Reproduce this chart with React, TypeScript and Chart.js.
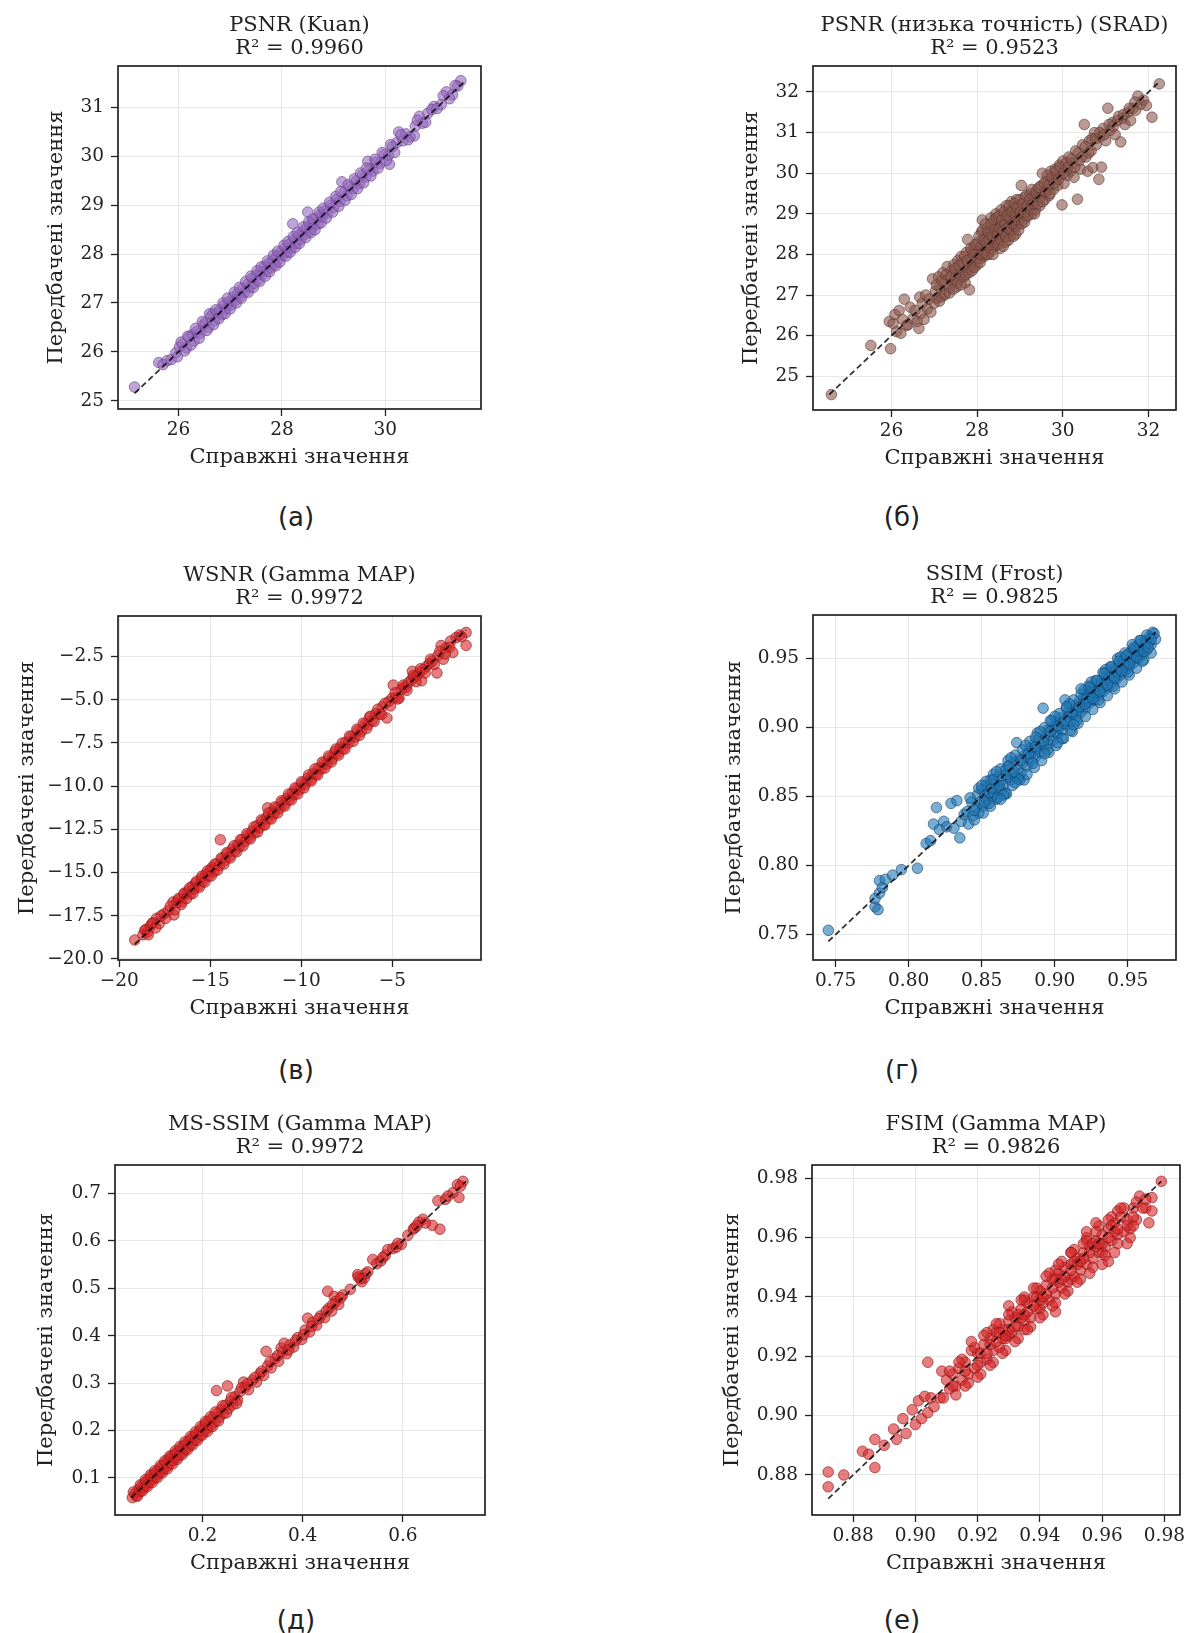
import React, { useEffect, useRef } from "react";
import { Chart, registerables } from "chart.js";

Chart.register(...registerables);

// ---------------- DATA (true value, predicted value) ----------------
const kuanPoints: [number, number][] = [
  [25.15, 25.28], [25.62, 25.78], [25.7, 25.74], [25.78, 25.82], [25.86, 25.84], [25.95, 25.98],
  [26.02, 26.1], [26.08, 26.16], [26.15, 26.08], [26.2, 26.3], [26.26, 26.35], [26.3, 26.22],
  [26.36, 26.42], [26.42, 26.38], [26.48, 26.55], [26.52, 26.6], [26.58, 26.5], [26.62, 26.72],
  [26.66, 26.78], [26.7, 26.64], [26.75, 26.8], [26.8, 26.86], [26.84, 26.76], [26.88, 26.95],
  [26.92, 26.88], [26.97, 27.02], [27.02, 26.96], [27.06, 27.12], [27.1, 27.05], [27.15, 27.2],
  [27.2, 27.14], [27.24, 27.3], [27.28, 27.22], [27.33, 27.38], [27.38, 27.32], [27.42, 27.5],
  [27.46, 27.4], [27.5, 27.56], [27.55, 27.48], [27.58, 27.64], [27.62, 27.58], [27.66, 27.74],
  [27.7, 27.66], [27.74, 27.8], [27.78, 27.72], [27.82, 27.88], [27.86, 27.8], [27.9, 27.96],
  [27.94, 27.9], [27.98, 28.04], [28.02, 27.98], [28.06, 28.12], [28.1, 28.04], [28.14, 28.2],
  [28.18, 28.12], [28.21, 28.62], [28.24, 28.3], [28.28, 28.22], [28.32, 28.38], [28.36, 28.3],
  [28.4, 28.46], [28.44, 28.4], [28.48, 28.55], [28.5, 28.86], [28.54, 28.48], [28.58, 28.64],
  [28.62, 28.58], [28.66, 28.72], [28.7, 28.62], [28.74, 28.8], [28.78, 28.76], [28.82, 28.88],
  [28.88, 28.84], [28.94, 29.0], [29.0, 28.96], [29.06, 29.12], [29.12, 29.08], [29.16, 29.48],
  [29.2, 29.26], [29.26, 29.2], [29.32, 29.38], [29.38, 29.34], [29.44, 29.5], [29.5, 29.44],
  [29.56, 29.62], [29.62, 29.58], [29.66, 29.9], [29.7, 29.74], [29.76, 29.7], [29.82, 29.88],
  [29.9, 29.86], [29.98, 30.04], [30.06, 30.02], [30.08, 29.84], [30.14, 30.2], [30.22, 30.28],
  [30.26, 30.5], [30.34, 30.32], [30.4, 30.46], [30.48, 30.4], [30.56, 30.42], [30.58, 30.62],
  [30.66, 30.82], [30.72, 30.68], [30.82, 30.88], [30.94, 31.02], [31.08, 31.06], [31.18, 31.32],
  [31.3, 31.26], [31.4, 31.44], [31.46, 31.55],
];
const kuanPointsExtra: [number, number][] = [
  [25.98, 25.9], [26.05, 26.2], [26.12, 26.02], [26.18, 26.32], [26.24, 26.14], [26.33, 26.48],
  [26.4, 26.28], [26.46, 26.62], [26.55, 26.44], [26.6, 26.78], [26.68, 26.56], [26.72, 26.86],
  [26.78, 26.68], [26.86, 27.0], [26.9, 26.78], [26.95, 27.1], [27.0, 26.88], [27.08, 27.22],
  [27.12, 27.0], [27.18, 27.32], [27.22, 27.1], [27.3, 27.44], [27.35, 27.22], [27.4, 27.55],
  [27.45, 27.32], [27.52, 27.66], [27.57, 27.44], [27.6, 27.74], [27.68, 27.55], [27.72, 27.86],
  [27.76, 27.64], [27.84, 27.98], [27.88, 27.76], [27.92, 28.06], [27.96, 27.84], [28.04, 28.18],
  [28.08, 27.96], [28.12, 28.26], [28.16, 28.04], [28.22, 28.36], [28.26, 28.14], [28.3, 28.44],
  [28.34, 28.22], [28.42, 28.56], [28.46, 28.34], [28.52, 28.66], [28.56, 28.44], [28.6, 28.72],
  [28.64, 28.5], [28.72, 28.86], [28.76, 28.64], [28.8, 28.94], [28.86, 28.74], [28.92, 29.06],
  [28.98, 28.86], [29.04, 29.18], [29.1, 28.98], [29.14, 29.28], [29.22, 29.1], [29.28, 29.42],
  [29.34, 29.22], [29.4, 29.54], [29.46, 29.34], [29.52, 29.66], [29.58, 29.46], [29.64, 29.76],
  [29.72, 29.6], [29.8, 29.94], [29.86, 29.76], [29.94, 30.08], [30.02, 29.92], [30.1, 30.24],
  [30.18, 30.08], [30.3, 30.44], [30.44, 30.34], [30.62, 30.74], [30.78, 30.7], [30.9, 30.96],
  [31.0, 30.98], [31.12, 31.24], [31.24, 31.18], [31.35, 31.45],
];

const sradPoints: [number, number][] = [
  [24.6, 24.55], [25.52, 25.76], [25.98, 25.68], [25.95, 26.35], [26.04, 26.3], [26.08, 26.52],
  [26.12, 26.1], [26.18, 26.62], [26.22, 26.06], [26.26, 26.4], [26.3, 26.9], [26.35, 26.25],
  [26.39, 26.27], [26.44, 26.7], [26.5, 26.42], [26.55, 26.62], [26.6, 26.35], [26.64, 26.18],
  [26.66, 26.95], [26.7, 26.55], [26.72, 26.8], [26.76, 26.4], [26.8, 27.0], [26.84, 26.66],
  [26.88, 26.9], [26.92, 26.58], [26.96, 27.4], [27.0, 26.8], [27.03, 27.1], [27.06, 26.92],
  [27.1, 27.45], [27.13, 27.2], [27.16, 26.95], [27.2, 27.55], [27.22, 27.3], [27.26, 27.05],
  [27.3, 27.7], [27.33, 27.4], [27.36, 27.18], [27.4, 27.6], [27.43, 27.32], [27.46, 27.75],
  [27.5, 27.48], [27.52, 27.2], [27.55, 27.85], [27.58, 27.6], [27.6, 27.4], [27.63, 27.95],
  [27.66, 27.55], [27.7, 27.78], [27.72, 27.3], [27.75, 28.05], [27.78, 28.37], [27.8, 27.65],
  [27.82, 27.13], [27.84, 27.9], [27.87, 28.1], [27.9, 27.7], [27.93, 28.2], [27.96, 27.85],
  [27.98, 28.0], [28.0, 27.75], [28.02, 28.3], [28.05, 28.1], [28.08, 27.9], [28.1, 28.55],
  [28.12, 28.85], [28.14, 28.2], [28.16, 27.95], [28.18, 28.4], [28.2, 28.1], [28.22, 28.65],
  [28.25, 28.25], [28.27, 28.0], [28.3, 28.5], [28.32, 28.9], [28.34, 28.3], [28.36, 28.12],
  [28.38, 28.7], [28.4, 28.45], [28.42, 28.2], [28.44, 29.0], [28.46, 28.6], [28.48, 28.35],
  [28.5, 28.8], [28.52, 28.5], [28.54, 28.15], [28.56, 29.1], [28.58, 28.7], [28.6, 28.4],
  [28.62, 28.95], [28.64, 28.6], [28.66, 28.3], [28.68, 29.2], [28.7, 28.8], [28.72, 28.55],
  [28.74, 29.05], [28.76, 28.7], [28.78, 28.45], [28.8, 29.3], [28.82, 28.9], [28.84, 28.6],
  [28.86, 29.1], [28.88, 28.8], [28.9, 28.5], [28.92, 29.35], [28.94, 29.0], [28.96, 28.75],
  [28.98, 29.2], [29.0, 28.9], [29.03, 29.7], [29.05, 29.1], [29.08, 28.85], [29.1, 29.4],
  [29.13, 29.05], [29.16, 28.95], [29.18, 29.3], [29.2, 29.15], [29.23, 29.5], [29.26, 29.2],
  [29.28, 29.0], [29.3, 29.45], [29.33, 29.3], [29.36, 29.1], [29.4, 29.6], [29.43, 29.4],
  [29.46, 29.2], [29.5, 29.7], [29.52, 30.0], [29.55, 29.5], [29.58, 29.35], [29.62, 29.8],
  [29.65, 29.6], [29.68, 29.45], [29.72, 30.05], [29.75, 29.85], [29.78, 29.6], [29.82, 30.1],
  [29.85, 29.9], [29.88, 29.7], [29.92, 30.2], [29.95, 29.95], [29.98, 29.22], [30.0, 30.3],
  [30.03, 29.75], [30.06, 30.1], [30.1, 29.95], [30.14, 30.4], [30.18, 30.05], [30.22, 30.25],
  [30.26, 29.9], [30.3, 30.55], [30.34, 29.36], [30.38, 30.3], [30.42, 30.1], [30.46, 30.7],
  [30.5, 31.2], [30.54, 30.4], [30.58, 30.05], [30.62, 30.8], [30.66, 30.55], [30.7, 30.14],
  [30.74, 31.0], [30.78, 30.7], [30.84, 29.85], [30.88, 30.9], [30.9, 30.15], [30.94, 31.1],
  [31.0, 30.8], [31.05, 31.6], [31.1, 31.05], [31.16, 31.25], [31.22, 30.95], [31.28, 31.3],
  [31.35, 30.77], [31.4, 31.35], [31.45, 31.2], [31.52, 31.5], [31.58, 31.3], [31.64, 31.6],
  [31.7, 31.55], [31.75, 31.9], [31.82, 31.7], [31.88, 31.8], [31.95, 31.67], [32.08, 31.38],
  [32.25, 32.2],
];
const sradPointsExtra: [number, number][] = [
  [27.05, 27.25], [27.12, 26.85], [27.18, 27.35], [27.24, 27.0], [27.28, 27.5], [27.35, 27.05],
  [27.38, 27.45], [27.45, 27.15], [27.48, 27.65], [27.54, 27.3], [27.57, 27.72], [27.62, 27.25],
  [27.65, 27.8], [27.68, 27.45], [27.71, 27.95], [27.74, 27.5], [27.77, 27.85], [27.81, 27.55],
  [27.85, 28.15], [27.88, 27.6], [27.91, 28.0], [27.94, 27.68], [27.97, 28.25], [28.01, 27.9],
  [28.04, 28.45], [28.07, 27.8], [28.09, 28.2], [28.11, 28.0], [28.13, 28.6], [28.15, 28.35],
  [28.17, 28.05], [28.19, 28.75], [28.21, 28.3], [28.23, 28.0], [28.26, 28.55], [28.28, 28.35],
  [28.31, 28.15], [28.33, 28.75], [28.35, 28.45], [28.37, 28.0], [28.39, 28.85], [28.41, 28.6],
  [28.43, 28.3], [28.45, 28.9], [28.47, 28.5], [28.49, 28.25], [28.51, 28.95], [28.53, 28.65],
  [28.55, 28.35], [28.57, 28.85], [28.59, 28.55], [28.61, 28.2], [28.63, 29.05], [28.65, 28.75],
  [28.67, 28.45], [28.69, 28.95], [28.71, 28.65], [28.73, 28.35], [28.75, 29.2], [28.77, 28.9],
  [28.79, 28.6], [28.81, 29.05], [28.83, 28.75], [28.85, 28.45], [28.87, 29.25], [28.89, 28.95],
  [28.91, 28.7], [28.93, 29.15], [28.95, 28.85], [28.97, 28.6], [28.99, 29.35], [29.01, 29.05],
  [29.04, 28.75], [29.06, 29.25], [29.09, 29.0], [29.11, 28.8], [29.14, 29.45], [29.17, 29.2],
  [29.19, 28.95], [29.22, 29.35], [29.25, 29.1], [29.27, 29.6], [29.31, 29.25], [29.34, 29.0],
  [29.38, 29.5], [29.41, 29.25], [29.44, 29.65], [29.48, 29.4], [29.53, 29.3], [29.57, 29.75],
  [29.6, 29.55], [29.64, 29.95], [29.67, 29.7], [29.7, 29.5], [29.74, 29.9], [29.8, 29.75],
  [29.84, 30.05], [29.9, 29.85], [29.94, 30.15], [30.02, 30.0], [30.08, 30.25], [30.12, 30.15],
  [30.2, 30.35], [30.28, 30.15], [30.36, 30.5], [30.44, 30.4], [30.52, 30.65], [30.6, 30.5],
  [30.68, 30.85], [30.76, 30.85], [30.86, 31.0], [30.96, 30.95], [31.08, 31.2], [31.18, 31.15],
  [31.3, 31.4], [31.42, 31.45], [31.55, 31.6], [31.68, 31.75],
];

const wsnrPoints: [number, number][] = [
  [-19.15, -18.9], [-18.7, -18.6], [-18.55, -18.3], [-18.45, -18.45], [-18.3, -18.1], [-18.15, -17.9],
  [-17.95, -17.65], [-17.8, -17.95], [-17.55, -17.4], [-17.3, -17.2], [-17.05, -16.7], [-17.0, -17.45],
  [-16.85, -16.75], [-16.7, -16.55], [-16.55, -16.7], [-16.4, -16.25], [-16.25, -16.1], [-16.1, -16.25],
  [-16.0, -15.8], [-15.9, -15.95], [-15.8, -15.6], [-15.65, -15.75], [-15.5, -15.35], [-15.4, -15.5],
  [-15.25, -15.1], [-15.1, -15.2], [-15.0, -14.85], [-14.9, -14.7], [-14.8, -14.95], [-14.65, -14.5],
  [-14.45, -13.1], [-14.5, -14.6], [-14.35, -14.2], [-14.2, -14.3], [-14.05, -13.9], [-13.95, -14.05],
  [-13.8, -13.65], [-13.65, -13.75], [-13.5, -13.4], [-13.4, -13.5], [-13.25, -13.1], [-13.1, -13.2],
  [-12.95, -12.85], [-12.85, -12.95], [-12.7, -12.6], [-12.55, -12.7], [-12.45, -12.3], [-12.3, -12.4],
  [-12.15, -12.05], [-12.05, -12.2], [-11.9, -11.8], [-11.85, -11.25], [-11.75, -11.85], [-11.6, -11.5],
  [-11.5, -11.6], [-11.35, -11.25], [-11.2, -11.3], [-11.05, -10.95], [-10.95, -11.05], [-10.8, -10.7],
  [-10.65, -10.75], [-10.5, -10.4], [-10.4, -10.5], [-10.25, -10.15], [-10.1, -10.2], [-9.95, -9.85],
  [-9.8, -9.9], [-9.65, -9.55], [-9.5, -9.62], [-9.35, -9.25], [-9.2, -9.32], [-9.05, -8.95],
  [-8.9, -9.0], [-8.75, -8.65], [-8.6, -8.72], [-8.45, -8.35], [-8.3, -8.42], [-8.15, -8.0],
  [-8.0, -8.1], [-7.85, -7.75], [-7.7, -7.82], [-7.55, -7.45], [-7.4, -7.5], [-7.25, -7.12],
  [-7.05, -7.15], [-6.9, -6.8], [-6.7, -6.82], [-6.5, -6.4], [-6.35, -6.45], [-6.25, -6.0],
  [-6.1, -6.2], [-5.9, -5.8], [-5.7, -5.82], [-5.55, -5.4], [-5.3, -6.05], [-5.2, -5.1],
  [-5.0, -4.9], [-4.95, -4.15], [-4.8, -4.85], [-4.63, -4.9], [-4.5, -4.4], [-4.35, -4.25],
  [-4.25, -4.3], [-4.1, -4.0], [-3.95, -3.85], [-3.9, -3.35], [-3.8, -3.7], [-3.65, -3.6],
  [-3.5, -3.4], [-3.4, -3.9], [-3.3, -3.25], [-3.1, -3.05], [-2.95, -2.9], [-2.8, -2.75],
  [-2.55, -3.45], [-2.5, -2.45], [-2.32, -1.86], [-2.2, -2.65], [-2.05, -2.0], [-1.85, -1.95],
  [-1.68, -2.26], [-1.5, -1.4], [-1.3, -1.25], [-0.95, -1.85], [-0.95, -1.1],
];
const wsnrPointsExtra: [number, number][] = [
  [-18.6, -18.35], [-18.4, -18.6], [-18.2, -17.95], [-18.0, -18.2], [-17.7, -17.5], [-17.45, -17.65],
  [-17.2, -16.95], [-16.95, -17.15], [-16.75, -16.5], [-16.6, -16.85], [-16.45, -16.2], [-16.3, -16.5],
  [-16.15, -15.9], [-15.95, -16.2], [-15.75, -15.5], [-15.6, -15.85], [-15.45, -15.2], [-15.3, -15.55],
  [-15.15, -14.9], [-14.95, -15.2], [-14.75, -14.5], [-14.6, -14.85], [-14.4, -14.15], [-14.25, -14.5],
  [-14.1, -13.85], [-13.9, -14.15], [-13.7, -13.45], [-13.55, -13.8], [-13.35, -13.1], [-13.2, -13.45],
  [-13.0, -12.75], [-12.8, -13.05], [-12.6, -12.35], [-12.4, -12.65], [-12.2, -11.95], [-12.0, -12.25],
  [-11.8, -11.55], [-11.65, -11.9], [-11.45, -11.2], [-11.3, -11.55], [-11.1, -10.85], [-10.9, -11.15],
  [-10.7, -10.45], [-10.55, -10.8], [-10.35, -10.1], [-10.2, -10.45], [-10.0, -9.75], [-9.85, -10.1],
  [-9.6, -9.35], [-9.45, -9.7], [-9.25, -9.0], [-9.1, -9.35], [-8.85, -8.6], [-8.7, -8.95],
  [-8.5, -8.25], [-8.35, -8.6], [-8.1, -7.85], [-7.95, -8.2], [-7.75, -7.5], [-7.6, -7.85],
  [-7.35, -7.1], [-7.15, -7.4], [-6.95, -6.7], [-6.8, -7.05], [-6.6, -6.35], [-6.4, -6.65],
  [-6.2, -5.95], [-6.0, -6.25], [-5.8, -5.55], [-5.6, -5.85], [-5.4, -5.2], [-5.1, -5.35],
  [-4.85, -4.6], [-4.7, -4.95], [-4.4, -4.15], [-4.2, -4.45], [-3.85, -3.6], [-3.7, -3.95],
  [-3.45, -3.2], [-3.2, -3.45], [-2.9, -2.65], [-2.7, -2.95], [-2.4, -2.2], [-2.1, -2.35],
  [-1.8, -1.6], [-1.2, -1.35],
];

const ssimPoints: [number, number][] = [
  [0.745, 0.753], [0.777, 0.77], [0.777, 0.776], [0.779, 0.768], [0.78, 0.78], [0.78, 0.789],
  [0.782, 0.784], [0.784, 0.79], [0.789, 0.793], [0.795, 0.797], [0.806, 0.798], [0.812, 0.816],
  [0.815, 0.818], [0.817, 0.83], [0.819, 0.842], [0.821, 0.826], [0.824, 0.832], [0.826, 0.828],
  [0.829, 0.845], [0.831, 0.827], [0.833, 0.847], [0.835, 0.82], [0.836, 0.832], [0.838, 0.837],
  [0.84, 0.839], [0.841, 0.83], [0.843, 0.846], [0.844, 0.836], [0.846, 0.842], [0.847, 0.851],
  [0.848, 0.838], [0.849, 0.846], [0.85, 0.855], [0.851, 0.843], [0.852, 0.85], [0.853, 0.858],
  [0.854, 0.847], [0.855, 0.853], [0.856, 0.862], [0.857, 0.85], [0.858, 0.853], [0.859, 0.86],
  [0.86, 0.848], [0.861, 0.857], [0.862, 0.865], [0.863, 0.855], [0.864, 0.862], [0.865, 0.858],
  [0.866, 0.869], [0.867, 0.852], [0.868, 0.864], [0.869, 0.872], [0.87, 0.862], [0.871, 0.867],
  [0.872, 0.875], [0.873, 0.864], [0.874, 0.889], [0.875, 0.87], [0.876, 0.877], [0.877, 0.867],
  [0.878, 0.874], [0.879, 0.862], [0.88, 0.88], [0.881, 0.872], [0.882, 0.878], [0.883, 0.885],
  [0.884, 0.876], [0.885, 0.882], [0.886, 0.888], [0.887, 0.879], [0.888, 0.884], [0.889, 0.892],
  [0.89, 0.882], [0.891, 0.888], [0.892, 0.914], [0.893, 0.886], [0.894, 0.893], [0.895, 0.898],
  [0.896, 0.888], [0.897, 0.894], [0.898, 0.9], [0.899, 0.891], [0.9, 0.897], [0.901, 0.904],
  [0.902, 0.895], [0.903, 0.9], [0.904, 0.907], [0.905, 0.898], [0.906, 0.903], [0.907, 0.92],
  [0.908, 0.902], [0.909, 0.908], [0.91, 0.912], [0.911, 0.904], [0.912, 0.897], [0.913, 0.91],
  [0.914, 0.916], [0.915, 0.908], [0.916, 0.913], [0.917, 0.919], [0.918, 0.911], [0.919, 0.916],
  [0.92, 0.922], [0.921, 0.914], [0.922, 0.919], [0.923, 0.926], [0.924, 0.918], [0.925, 0.922],
  [0.926, 0.928], [0.927, 0.92], [0.928, 0.925], [0.929, 0.931], [0.93, 0.923], [0.931, 0.928],
  [0.932, 0.934], [0.933, 0.926], [0.934, 0.931], [0.935, 0.937], [0.936, 0.929], [0.937, 0.934],
  [0.938, 0.94], [0.939, 0.932], [0.94, 0.937], [0.941, 0.943], [0.942, 0.935], [0.943, 0.94],
  [0.944, 0.946], [0.945, 0.938], [0.946, 0.943], [0.947, 0.949], [0.948, 0.941], [0.949, 0.946],
  [0.95, 0.953], [0.951, 0.944], [0.952, 0.949], [0.953, 0.956], [0.954, 0.947], [0.955, 0.952],
  [0.956, 0.958], [0.957, 0.95], [0.958, 0.955], [0.959, 0.961], [0.96, 0.953], [0.961, 0.958],
  [0.962, 0.963], [0.963, 0.956], [0.964, 0.961], [0.965, 0.966], [0.966, 0.96], [0.967, 0.969],
  [0.969, 0.964],
];
const ssimPointsExtra: [number, number][] = [
  [0.842, 0.849], [0.845, 0.833], [0.848, 0.856], [0.851, 0.838], [0.853, 0.861], [0.856, 0.843],
  [0.858, 0.866], [0.861, 0.849], [0.863, 0.87], [0.866, 0.852], [0.868, 0.876], [0.871, 0.858],
  [0.873, 0.88], [0.876, 0.862], [0.878, 0.884], [0.881, 0.866], [0.883, 0.89], [0.886, 0.871],
  [0.888, 0.896], [0.891, 0.876], [0.893, 0.9], [0.896, 0.882], [0.898, 0.905], [0.901, 0.887],
  [0.903, 0.91], [0.906, 0.892], [0.908, 0.914], [0.911, 0.898], [0.913, 0.92], [0.916, 0.903],
  [0.918, 0.924], [0.921, 0.908], [0.923, 0.93], [0.926, 0.913], [0.928, 0.934], [0.931, 0.918],
  [0.933, 0.94], [0.936, 0.923], [0.938, 0.944], [0.941, 0.928], [0.943, 0.95], [0.946, 0.933],
  [0.948, 0.954], [0.951, 0.938], [0.953, 0.96], [0.956, 0.943], [0.958, 0.963], [0.961, 0.949],
  [0.963, 0.967], [0.966, 0.954], [0.968, 0.968], [0.935, 0.942], [0.94, 0.93], [0.945, 0.951],
  [0.95, 0.94], [0.955, 0.957], [0.96, 0.948], [0.925, 0.933], [0.93, 0.92], [0.92, 0.927],
  [0.915, 0.905], [0.91, 0.917], [0.905, 0.892], [0.9, 0.908], [0.895, 0.884], [0.89, 0.897],
  [0.885, 0.874], [0.88, 0.887], [0.875, 0.863], [0.87, 0.878], [0.865, 0.851], [0.86, 0.868],
  [0.855, 0.845], [0.85, 0.858], [0.845, 0.84],
];
const ssimPointsDense: [number, number][] = [
  [0.852, 0.846], [0.857, 0.856], [0.862, 0.858], [0.867, 0.866], [0.872, 0.868], [0.877, 0.876],
  [0.882, 0.881], [0.887, 0.886], [0.892, 0.89], [0.897, 0.897], [0.902, 0.901], [0.907, 0.905],
  [0.912, 0.911], [0.917, 0.915], [0.922, 0.921], [0.927, 0.925], [0.932, 0.931], [0.937, 0.936],
  [0.942, 0.941], [0.947, 0.946], [0.952, 0.951], [0.957, 0.956], [0.962, 0.96], [0.966, 0.964],
  [0.924, 0.929], [0.929, 0.934], [0.934, 0.939], [0.939, 0.944], [0.944, 0.948], [0.949, 0.952],
  [0.954, 0.958], [0.959, 0.963], [0.921, 0.917], [0.926, 0.921], [0.931, 0.926], [0.936, 0.931],
  [0.941, 0.936], [0.946, 0.941], [0.951, 0.946], [0.956, 0.951], [0.961, 0.955], [0.964, 0.958],
  [0.887, 0.893], [0.893, 0.881], [0.897, 0.905], [0.902, 0.889], [0.908, 0.915], [0.913, 0.902],
  [0.918, 0.928], [0.868, 0.872], [0.873, 0.86], [0.858, 0.862], [0.863, 0.848],
];

const msssimPoints: [number, number][] = [
  [0.06, 0.058], [0.065, 0.066], [0.068, 0.062], [0.072, 0.075], [0.075, 0.07], [0.078, 0.082],
  [0.082, 0.078], [0.085, 0.09], [0.088, 0.084], [0.091, 0.095], [0.094, 0.09], [0.097, 0.102],
  [0.1, 0.096], [0.103, 0.108], [0.106, 0.101], [0.109, 0.113], [0.112, 0.108], [0.115, 0.12],
  [0.118, 0.113], [0.121, 0.126], [0.124, 0.119], [0.127, 0.133], [0.13, 0.125], [0.133, 0.14],
  [0.136, 0.131], [0.139, 0.146], [0.142, 0.137], [0.145, 0.15], [0.148, 0.142], [0.151, 0.156],
  [0.154, 0.148], [0.157, 0.162], [0.16, 0.154], [0.163, 0.168], [0.166, 0.16], [0.169, 0.174],
  [0.172, 0.166], [0.175, 0.18], [0.178, 0.172], [0.181, 0.186], [0.184, 0.179], [0.187, 0.192],
  [0.19, 0.184], [0.194, 0.199], [0.197, 0.191], [0.2, 0.206], [0.203, 0.198], [0.206, 0.214],
  [0.21, 0.204], [0.213, 0.22], [0.217, 0.21], [0.221, 0.227], [0.225, 0.218], [0.228, 0.284],
  [0.23, 0.236], [0.234, 0.228], [0.238, 0.244], [0.242, 0.236], [0.246, 0.253], [0.25, 0.294],
  [0.252, 0.246], [0.256, 0.262], [0.26, 0.254], [0.265, 0.271], [0.27, 0.264], [0.275, 0.282],
  [0.282, 0.302], [0.285, 0.291], [0.292, 0.286], [0.3, 0.306], [0.308, 0.302], [0.315, 0.32],
  [0.322, 0.316], [0.327, 0.367], [0.33, 0.336], [0.337, 0.332], [0.345, 0.352], [0.352, 0.346],
  [0.357, 0.374], [0.36, 0.366], [0.363, 0.384], [0.368, 0.362], [0.375, 0.381], [0.382, 0.376],
  [0.39, 0.396], [0.398, 0.392], [0.405, 0.412], [0.41, 0.437], [0.414, 0.408], [0.42, 0.428],
  [0.428, 0.422], [0.436, 0.442], [0.444, 0.438], [0.45, 0.494], [0.452, 0.458], [0.458, 0.452],
  [0.463, 0.483], [0.466, 0.472], [0.472, 0.466], [0.48, 0.486], [0.495, 0.498], [0.51, 0.529],
  [0.511, 0.524], [0.518, 0.514], [0.523, 0.522], [0.526, 0.531], [0.54, 0.561], [0.548, 0.552],
  [0.556, 0.558], [0.565, 0.57], [0.57, 0.582], [0.58, 0.584], [0.587, 0.587], [0.597, 0.593],
  [0.61, 0.612], [0.621, 0.625], [0.623, 0.628], [0.632, 0.64], [0.64, 0.646], [0.659, 0.633],
  [0.67, 0.685], [0.674, 0.625], [0.685, 0.688], [0.7, 0.702], [0.709, 0.719], [0.712, 0.692],
  [0.72, 0.726],
];
const msssimPointsExtra: [number, number][] = [
  [0.062, 0.07], [0.07, 0.061], [0.076, 0.085], [0.08, 0.072], [0.086, 0.096], [0.09, 0.081],
  [0.096, 0.106], [0.1, 0.09], [0.105, 0.115], [0.11, 0.1], [0.116, 0.126], [0.12, 0.11],
  [0.125, 0.136], [0.13, 0.119], [0.135, 0.146], [0.14, 0.129], [0.146, 0.157], [0.15, 0.139],
  [0.155, 0.166], [0.16, 0.149], [0.165, 0.176], [0.17, 0.159], [0.176, 0.187], [0.18, 0.169],
  [0.186, 0.197], [0.19, 0.179], [0.196, 0.208], [0.2, 0.19], [0.206, 0.219], [0.21, 0.198],
  [0.216, 0.229], [0.22, 0.208], [0.226, 0.239], [0.232, 0.22], [0.24, 0.252], [0.248, 0.237],
  [0.258, 0.27], [0.268, 0.257], [0.278, 0.29], [0.29, 0.298], [0.305, 0.312], [0.318, 0.325],
  [0.335, 0.345], [0.35, 0.358], [0.372, 0.37], [0.386, 0.39], [0.402, 0.402], [0.418, 0.42],
  [0.432, 0.436], [0.447, 0.452], [0.46, 0.466], [0.476, 0.48], [0.515, 0.52], [0.53, 0.535],
  [0.56, 0.565], [0.59, 0.595], [0.628, 0.632], [0.645, 0.638], [0.69, 0.695], [0.715, 0.716],
];

const fsimPoints: [number, number][] = [
  [0.872, 0.881], [0.872, 0.876], [0.877, 0.88], [0.883, 0.888], [0.885, 0.887], [0.887, 0.892],
  [0.887, 0.8825], [0.89, 0.89], [0.893, 0.8955], [0.894, 0.892], [0.896, 0.899], [0.897, 0.894],
  [0.899, 0.902], [0.9, 0.897], [0.901, 0.905], [0.902, 0.899], [0.903, 0.9065], [0.904, 0.918],
  [0.904, 0.901], [0.905, 0.906], [0.906, 0.903], [0.908, 0.906], [0.9085, 0.915], [0.909, 0.906],
  [0.91, 0.912], [0.911, 0.909], [0.912, 0.914], [0.913, 0.91], [0.914, 0.916], [0.915, 0.912],
  [0.916, 0.918], [0.917, 0.914], [0.918, 0.922], [0.919, 0.916], [0.92, 0.921], [0.921, 0.918],
  [0.922, 0.924], [0.923, 0.919], [0.924, 0.926], [0.925, 0.922], [0.925, 0.929], [0.926, 0.928],
  [0.927, 0.923], [0.928, 0.929], [0.929, 0.926], [0.93, 0.932], [0.93, 0.927], [0.931, 0.928],
  [0.932, 0.933], [0.933, 0.93], [0.934, 0.936], [0.935, 0.932], [0.935, 0.939], [0.936, 0.938],
  [0.937, 0.933], [0.938, 0.94], [0.939, 0.936], [0.94, 0.942], [0.94, 0.936], [0.941, 0.938],
  [0.942, 0.944], [0.943, 0.939], [0.944, 0.946], [0.945, 0.941], [0.945, 0.949], [0.946, 0.948],
  [0.947, 0.943], [0.948, 0.95], [0.949, 0.945], [0.95, 0.951], [0.95, 0.946], [0.951, 0.947],
  [0.952, 0.953], [0.953, 0.949], [0.954, 0.955], [0.955, 0.951], [0.955, 0.959], [0.956, 0.957],
  [0.957, 0.953], [0.958, 0.959], [0.959, 0.955], [0.96, 0.961], [0.96, 0.955], [0.961, 0.957],
  [0.962, 0.963], [0.963, 0.959], [0.964, 0.965], [0.965, 0.961], [0.965, 0.969], [0.966, 0.967],
  [0.967, 0.962], [0.968, 0.966], [0.969, 0.96], [0.97, 0.97], [0.971, 0.966], [0.972, 0.974],
  [0.974, 0.97], [0.976, 0.9735], [0.976, 0.969], [0.979, 0.979],
];
const fsimPointsExtra: [number, number][] = [
  [0.911, 0.915], [0.913, 0.907], [0.915, 0.919], [0.917, 0.911], [0.919, 0.923], [0.921, 0.914],
  [0.923, 0.928], [0.925, 0.918], [0.927, 0.931], [0.929, 0.922], [0.931, 0.935], [0.933, 0.926],
  [0.935, 0.94], [0.937, 0.93], [0.939, 0.943], [0.941, 0.934], [0.943, 0.948], [0.945, 0.938],
  [0.947, 0.952], [0.949, 0.942], [0.951, 0.956], [0.953, 0.946], [0.955, 0.96], [0.957, 0.95],
  [0.959, 0.964], [0.961, 0.954], [0.963, 0.967], [0.965, 0.958], [0.967, 0.97], [0.969, 0.963],
  [0.924, 0.924], [0.928, 0.926], [0.932, 0.93], [0.936, 0.935], [0.94, 0.939], [0.944, 0.943],
  [0.948, 0.947], [0.952, 0.951], [0.956, 0.955], [0.96, 0.958], [0.964, 0.962], [0.968, 0.964],
  [0.92, 0.917], [0.916, 0.915], [0.912, 0.91], [0.955, 0.962], [0.95, 0.955], [0.945, 0.935],
  [0.962, 0.952], [0.958, 0.965], [0.935, 0.929], [0.93, 0.937], [0.97, 0.964], [0.973, 0.97],
];
const fsimPointsDense: [number, number][] = [
  [0.914, 0.918], [0.916, 0.91], [0.918, 0.925], [0.92, 0.913], [0.922, 0.927], [0.924, 0.917],
  [0.926, 0.931], [0.928, 0.921], [0.93, 0.934], [0.932, 0.925], [0.934, 0.939], [0.936, 0.929],
  [0.938, 0.943], [0.94, 0.933], [0.942, 0.947], [0.944, 0.937], [0.946, 0.951], [0.948, 0.941],
  [0.95, 0.955], [0.952, 0.945], [0.954, 0.958], [0.956, 0.948], [0.958, 0.962], [0.96, 0.951],
  [0.962, 0.966], [0.964, 0.955], [0.966, 0.97], [0.968, 0.958], [0.926, 0.925], [0.93, 0.929],
  [0.934, 0.933], [0.938, 0.937], [0.942, 0.941], [0.946, 0.945], [0.95, 0.949], [0.954, 0.953],
  [0.958, 0.957], [0.962, 0.96], [0.921, 0.921], [0.927, 0.928], [0.933, 0.934], [0.939, 0.94],
  [0.945, 0.946], [0.951, 0.952], [0.957, 0.958], [0.963, 0.964], [0.923, 0.921], [0.929, 0.927],
  [0.935, 0.934], [0.941, 0.94], [0.947, 0.946], [0.953, 0.952], [0.959, 0.958], [0.965, 0.963],
  [0.97, 0.967], [0.974, 0.973], [0.975, 0.965], [0.971, 0.972],
];

// ---------------- AXIS RANGES AND TICKS ----------------
const kuanRange = [24.83, 31.85];
const kuanXTicks = [26, 28, 30];
const kuanXLabels = ["26", "28", "30"];
const kuanYTicks = [25, 26, 27, 28, 29, 30, 31];
const kuanYLabels = ["25", "26", "27", "28", "29", "30", "31"];

const sradRange = [24.17, 32.64];
const sradXTicks = [26, 28, 30, 32];
const sradXLabels = ["26", "28", "30", "32"];
const sradYTicks = [25, 26, 27, 28, 29, 30, 31, 32];
const sradYLabels = ["25", "26", "27", "28", "29", "30", "31", "32"];

const wsnrXRange = [-20.07, -0.13];
const wsnrYRange = [-20.06, -0.15];
const wsnrXTicks = [-20, -15, -10, -5];
const wsnrXLabels = ["\u221220", "\u221215", "\u221210", "\u22125"];
const wsnrYTicks = [-20, -17.5, -15, -12.5, -10, -7.5, -5, -2.5];
const wsnrYLabels = ["\u221220.0", "\u221217.5", "\u221215.0", "\u221212.5", "\u221210.0", "\u22127.5", "\u22125.0", "\u22122.5"];

const ssimXRange = [0.7345, 0.983];
const ssimYRange = [0.7315, 0.9815];
const ssimTicks = [0.75, 0.8, 0.85, 0.9, 0.95];
const ssimLabels = ["0.75", "0.80", "0.85", "0.90", "0.95"];

const msssimXRange = [0.0254, 0.764];
const msssimYRange = [0.0213, 0.7605];
const msssimXTicks = [0.2, 0.4, 0.6];
const msssimXLabels = ["0.2", "0.4", "0.6"];
const msssimYTicks = [0.1, 0.2, 0.3, 0.4, 0.5, 0.6, 0.7];
const msssimYLabels = ["0.1", "0.2", "0.3", "0.4", "0.5", "0.6", "0.7"];

const fsimXRange = [0.8668, 0.985];
const fsimYRange = [0.8665, 0.9845];
const fsimTicks = [0.88, 0.9, 0.92, 0.94, 0.96, 0.98];
const fsimLabels = ["0.88", "0.90", "0.92", "0.94", "0.96", "0.98"];

// ---------------- STYLE / LAYOUT ----------------
const SERIF = "'DejaVu Serif', serif";
const TEXT = "#222";
const TITLE_LH = 23;
const TITLE_H = 56; // 4 + 2*23 + 6
const X_AXIS_H = 70;
const Y_AXIS_W = 120;
const RIGHT_PAD = 40;
const TICK_FONT = 18.5;
const LABEL_FONT = 21;
const TITLE_FONT = 21;

type Panel = {
  title: string;
  r2: string;
  color: string;
  edge: string;
  points: [number, number][];
  xRange: number[];
  yRange: number[];
  xTicks: number[];
  xLabels: string[];
  yTicks: number[];
  yLabels: string[];
  box: { L: number; T: number; R: number; B: number };
  yTitleDist: number;
  tag: string;
  tagPos: [number, number];
};

const panels: Panel[] = [
  {
    title: "PSNR (Kuan)", r2: "R\u00b2 = 0.9960", color: "148,103,189", edge: "95,60,135",
    points: [...kuanPoints, ...kuanPointsExtra],
    xRange: kuanRange, yRange: kuanRange, xTicks: kuanXTicks, xLabels: kuanXLabels,
    yTicks: kuanYTicks, yLabels: kuanYLabels,
    box: { L: 118, T: 66, R: 481, B: 409 }, yTitleDist: 61, tag: "(\u0430)", tagPos: [296, 517],
  },
  {
    title: "PSNR (\u043d\u0438\u0437\u044c\u043a\u0430 \u0442\u043e\u0447\u043d\u0456\u0441\u0442\u044c) (SRAD)", r2: "R\u00b2 = 0.9523", color: "140,86,75", edge: "85,55,50",
    points: [...sradPoints, ...sradPointsExtra],
    xRange: sradRange, yRange: sradRange, xTicks: sradXTicks, xLabels: sradXLabels,
    yTicks: sradYTicks, yLabels: sradYLabels,
    box: { L: 813, T: 66, R: 1176, B: 410 }, yTitleDist: 61.5, tag: "(\u0431)", tagPos: [902, 517],
  },
  {
    title: "WSNR (Gamma MAP)", r2: "R\u00b2 = 0.9972", color: "214,39,40", edge: "140,15,15",
    points: [...wsnrPoints, ...wsnrPointsExtra],
    xRange: wsnrXRange, yRange: wsnrYRange, xTicks: wsnrXTicks, xLabels: wsnrXLabels,
    yTicks: wsnrYTicks, yLabels: wsnrYLabels,
    box: { L: 118, T: 616, R: 481, B: 960 }, yTitleDist: 90.5, tag: "(\u0432)", tagPos: [296, 1070],
  },
  {
    title: "SSIM (Frost)", r2: "R\u00b2 = 0.9825", color: "31,119,180", edge: "15,65,110",
    points: [...ssimPoints, ...ssimPointsExtra, ...ssimPointsDense],
    xRange: ssimXRange, yRange: ssimYRange, xTicks: ssimTicks, xLabels: ssimLabels,
    yTicks: ssimTicks, yLabels: ssimLabels,
    box: { L: 813, T: 615, R: 1176, B: 960 }, yTitleDist: 78.5, tag: "(\u0433)", tagPos: [902, 1070],
  },
  {
    title: "MS-SSIM (Gamma MAP)", r2: "R\u00b2 = 0.9972", color: "214,39,40", edge: "140,15,15",
    points: [...msssimPoints, ...msssimPointsExtra],
    xRange: msssimXRange, yRange: msssimYRange, xTicks: msssimXTicks, xLabels: msssimXLabels,
    yTicks: msssimYTicks, yLabels: msssimYLabels,
    box: { L: 115, T: 1165, R: 485, B: 1515 }, yTitleDist: 68, tag: "(\u0434)", tagPos: [296, 1620],
  },
  {
    title: "FSIM (Gamma MAP)", r2: "R\u00b2 = 0.9826", color: "214,39,40", edge: "140,15,15",
    points: [...fsimPoints, ...fsimPointsExtra, ...fsimPointsDense],
    xRange: fsimXRange, yRange: fsimYRange, xTicks: fsimTicks, xLabels: fsimLabels,
    yTicks: fsimTicks, yLabels: fsimLabels,
    box: { L: 812, T: 1165, R: 1180, B: 1515 }, yTitleDist: 79, tag: "(\u0435)", tagPos: [902, 1620],
  },
];

const framePlugin = {
  id: "frame",
  afterDatasetsDraw(chart: any) {
    const { ctx, chartArea } = chart;
    ctx.save();
    ctx.strokeStyle = "#222";
    ctx.lineWidth = 1.7;
    ctx.strokeRect(chartArea.left, chartArea.top, chartArea.right - chartArea.left, chartArea.bottom - chartArea.top);
    ctx.restore();
  },
};

function ScatterPanel({ p }: { p: Panel }) {
  const ref = useRef<HTMLCanvasElement>(null);
  const { L, T, R, B } = p.box;
  const left = L - Y_AXIS_W;
  const top = T - TITLE_H;
  const width = Y_AXIS_W + (R - L) + RIGHT_PAD;
  const height = TITLE_H + (B - T) + X_AXIS_H;

  useEffect(() => {
    if (!ref.current) return;
    const all = p.points.flat();
    const lo = Math.min(...all);
    const hi = Math.max(...all);
    const labelLH = LABEL_FONT * 1.2;

    const tickFont = { family: SERIF, size: TICK_FONT, lineHeight: 1.2 };
    const labelFont = { family: SERIF, size: LABEL_FONT, lineHeight: 1.2 };
    const grid = {
      color: "#e6e6e6",
      lineWidth: 1,
      drawTicks: true,
      tickLength: 7,
      tickColor: "#222",
      tickWidth: 1.3,
    };

    const chart = new Chart(ref.current, {
      type: "scatter",
      data: {
        datasets: [
          {
            label: "diag",
            data: [{ x: lo, y: lo }, { x: hi, y: hi }],
            showLine: true,
            borderColor: "rgba(0,0,0,0.8)",
            borderWidth: 1.8,
            borderDash: [6, 3.5],
            pointRadius: 0,
            fill: false,
            order: 0,
          } as any,
          {
            label: "points",
            data: p.points.map(([x, y]) => ({ x, y })),
            backgroundColor: `rgba(${p.color},0.6)`,
            borderColor: `rgba(${p.edge},0.6)`,
            borderWidth: 1,
            pointRadius: 5.3,
            order: 1,
          },
        ],
      },
      options: {
        animation: false,
        responsive: false,
        events: [],
        layout: { padding: { left: 0, top: 0, right: RIGHT_PAD, bottom: 0 } },
        plugins: {
          legend: { display: false },
          tooltip: { enabled: false },
          title: {
            display: true,
            text: [p.title, p.r2],
            color: TEXT,
            fullSize: false,
            font: { family: SERIF, size: TITLE_FONT, weight: "normal", lineHeight: `${TITLE_LH}px` },
            padding: { top: 4, bottom: 6 },
          },
        },
        scales: {
          x: {
            type: "linear",
            min: p.xRange[0],
            max: p.xRange[1],
            afterBuildTicks: (s: any) => {
              s.ticks = p.xTicks.map((v) => ({ value: v }));
            },
            afterFit: (s: any) => {
              s.height = X_AXIS_H;
            },
            ticks: {
              autoSkip: false,
              maxRotation: 0,
              padding: 3,
              color: TEXT,
              font: tickFont,
              callback: (_v: any, i: number) => p.xLabels[i],
            },
            grid,
            border: { display: false },
            title: {
              display: true,
              text: "\u0421\u043f\u0440\u0430\u0432\u0436\u043d\u0456 \u0437\u043d\u0430\u0447\u0435\u043d\u043d\u044f",
              color: TEXT,
              font: labelFont,
              padding: { top: 0, bottom: X_AXIS_H - 49 - labelLH / 2 },
            },
          },
          y: {
            type: "linear",
            min: p.yRange[0],
            max: p.yRange[1],
            afterBuildTicks: (s: any) => {
              s.ticks = p.yTicks.map((v) => ({ value: v }));
            },
            afterFit: (s: any) => {
              s.width = Y_AXIS_W;
            },
            ticks: {
              autoSkip: false,
              padding: 7,
              color: TEXT,
              font: tickFont,
              callback: (_v: any, i: number) => p.yLabels[i],
            },
            grid,
            border: { display: false },
            title: {
              display: true,
              text: "\u041f\u0435\u0440\u0435\u0434\u0431\u0430\u0447\u0435\u043d\u0456 \u0437\u043d\u0430\u0447\u0435\u043d\u043d\u044f",
              color: TEXT,
              font: labelFont,
              padding: { top: Y_AXIS_W - p.yTitleDist - labelLH / 2, bottom: 0 },
            },
          },
        },
      } as any,
      plugins: [framePlugin],
    });
    return () => chart.destroy();
  }, [p]);

  return (
    <>
      <canvas
        ref={ref}
        width={width}
        height={height}
        style={{ position: "absolute", left, top, width, height }}
      />
      <div
        style={{
          position: "absolute",
          left: p.tagPos[0],
          top: p.tagPos[1],
          transform: "translate(-50%, -50%)",
          fontFamily: "'DejaVu Sans', sans-serif",
          fontSize: 26,
          color: TEXT,
          whiteSpace: "nowrap",
          lineHeight: 1,
        }}
      >
        {p.tag}
      </div>
    </>
  );
}

export default function App() {
  return (
    <div
      style={{
        position: "absolute",
        left: 0,
        top: 0,
        width: 1188,
        height: 1633,
        overflow: "hidden",
        background: "#fff",
      }}
    >
      {panels.map((p, i) => (
        <ScatterPanel key={i} p={p} />
      ))}
    </div>
  );
}
